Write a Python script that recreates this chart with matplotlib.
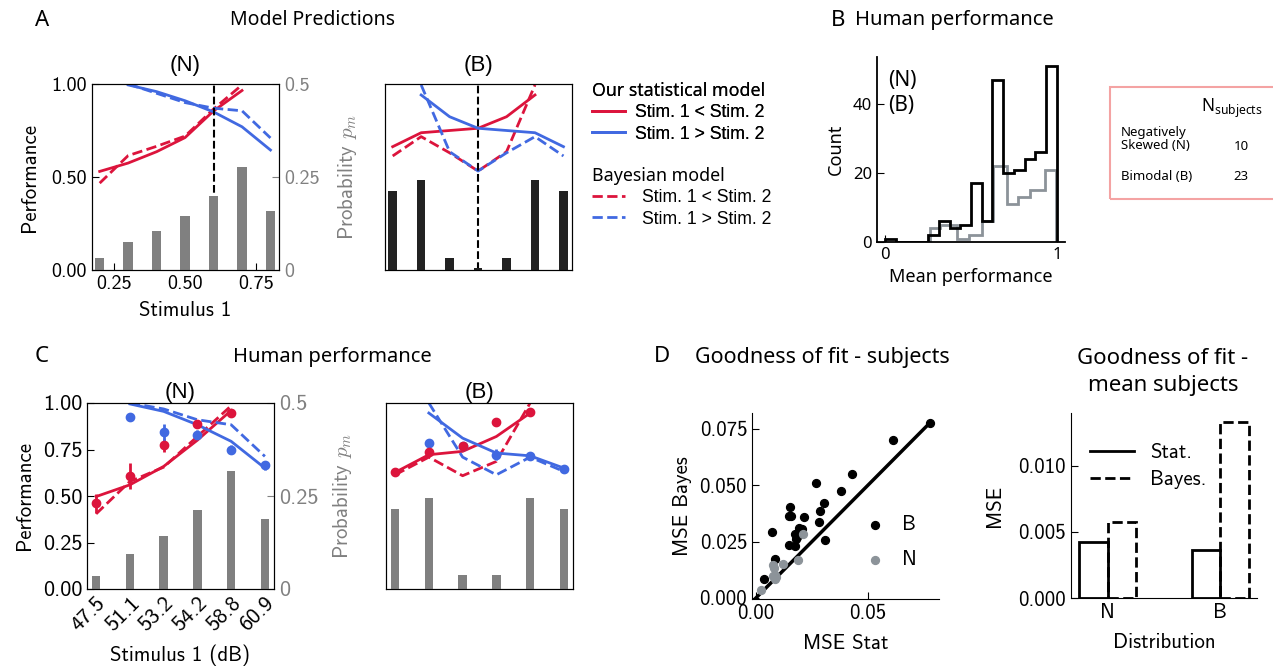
"""
Model predictions vs human performance (N / B stimulus distributions),
histogram of mean performance and goodness-of-fit summary.
"""

import matplotlib
matplotlib.use("Agg")
import matplotlib.pyplot as plt
from matplotlib.lines import Line2D
from matplotlib.patches import Rectangle

RED = "#DC143C"
BLUE = "#4169E1"
GRAY = "#808080"
SLATE = "#8c9399"

CM = "cmss10"
NOTO = "Noto Sans"
ARIAL = "Liberation Sans"

# ---- A: model predictions
stim_model = [0.2, 0.3, 0.4, 0.5, 0.6, 0.7, 0.8]
pm_model_N = [0.032, 0.075, 0.105, 0.145, 0.199, 0.277, 0.159]
pm_model_B = [0.213, 0.242, 0.031, 0.006, 0.031, 0.242, 0.213]

# red = Stim.1 < Stim.2 (x 0.2..0.7), blue = Stim.1 > Stim.2 (x 0.3..0.8)
stat_lo_N = [0.53, 0.575, 0.636, 0.712, 0.855, 0.965]
bayes_lo_N = [0.467, 0.615, 0.665, 0.72, 0.865, 0.995]
stat_hi_N = [0.995, 0.959, 0.91, 0.85, 0.77, 0.645]
bayes_hi_N = [1.0, 0.95, 0.9, 0.87, 0.856, 0.71]

stat_lo_B = [0.663, 0.738, 0.75, 0.762, 0.824, 0.941]
bayes_lo_B = [0.613, 0.717, 0.63, 0.532, 0.636, 0.995]
stat_hi_B = [0.941, 0.824, 0.762, 0.75, 0.738, 0.663]
bayes_hi_B = [0.995, 0.636, 0.532, 0.63, 0.717, 0.613]

# ---- B: histogram of mean performance
hist_edges_N = [i / 16 for i in range(17)]
hist_counts_N = [1, 0, 0, 0, 2, 6, 4, 5, 17, 6, 47, 20, 21, 24, 26, 51]
hist_edges_B = [0.26, 0.32, 0.417, 0.49, 0.562, 0.63, 0.708, 0.775, 0.843, 0.93, 0.994]
hist_counts_B = [4, 5, 1, 2, 6, 22, 11, 13, 15, 21]
n_subjects = {"Negatively\nSkewed (N)": 10, "Bimodal (B)": 23}

# ---- C: human performance
stim_db = ["47.5", "51.1", "53.2", "54.2", "58.8", "60.9"]
pm_human_N = [0.036, 0.094, 0.142, 0.212, 0.318, 0.189]
pm_human_B = [0.215, 0.245, 0.038, 0.038, 0.245, 0.215]

hstat_lo_N = [0.497, 0.56, 0.659, 0.80, 0.96]
hbayes_lo_N = [0.404, 0.578, 0.655, 0.82, 0.985]
data_lo_N = [0.46, 0.61, 0.772, 0.889, 0.946]
err_lo_N = [0.05, 0.07, 0.035, 0.02, 0.015]
hstat_hi_N = [0.995, 0.955, 0.883, 0.794, 0.65]
hbayes_hi_N = [1.0, 0.968, 0.91, 0.883, 0.713]
data_hi_N = [0.923, 0.842, 0.829, 0.749, 0.664]
err_hi_N = [0.02, 0.045, 0.025, 0.025, 0.025]

hstat_lo_B = [0.627, 0.722, 0.74, 0.82, 0.946]
hbayes_lo_B = [0.614, 0.709, 0.609, 0.686, 1.0]
data_lo_B = [0.627, 0.734, 0.77, 0.898, 0.952]
err_lo_B = [0.015, 0.02, 0.02, 0.015, 0.015]
hstat_hi_B = [0.946, 0.811, 0.731, 0.716, 0.65]
hbayes_hi_B = [1.0, 0.709, 0.614, 0.709, 0.632]
data_hi_B = [0.785, 0.77, 0.722, 0.716, 0.646]
err_hi_B = [0.015, 0.02, 0.03, 0.02, 0.015]

# ---- D: goodness of fit
mse_stat_B = [0.0778, 0.0611, 0.0430, 0.0381, 0.0268, 0.0302, 0.0286, 0.0280,
              0.0307, 0.0153, 0.0149, 0.0155, 0.0213, 0.0190, 0.0205, 0.0173,
              0.0179, 0.0176, 0.0149, 0.0071, 0.0086, 0.0034, 0.0183]
mse_bayes_B = [0.0775, 0.0701, 0.0549, 0.0472, 0.0509, 0.0420, 0.0386, 0.0336,
               0.0257, 0.0402, 0.0361, 0.0364, 0.0357, 0.0312, 0.0306, 0.0283,
               0.0260, 0.0231, 0.0235, 0.0290, 0.0172, 0.0083, 0.0272]
mse_stat_N = [0.0208, 0.0188, 0.0119, 0.0074, 0.0079, 0.0083, 0.0089, 0.0076,
              0.0086, 0.0024]
mse_bayes_N = [0.0284, 0.0169, 0.0149, 0.0144, 0.0132, 0.0102, 0.0092, 0.0095,
               0.0083, 0.0036]

dist_names = ["N", "B"]
mean_mse_stat = [0.00422, 0.00362]
mean_mse_bayes = [0.00575, 0.01334]

plt.rcParams.update({
    "font.family": CM,
    "font.size": 15,
    "axes.unicode_minus": False,
    "mathtext.fontset": "cm",
    "xtick.direction": "in",
    "ytick.direction": "in",
    "xtick.major.size": 5,
    "ytick.major.size": 5,
})

W, H = 1273, 671


def rect(left, top, right, bottom):
    return [left / W, 1 - bottom / H, (right - left) / W, (bottom - top) / H]


def fig_text(fig, x, y, s, **kw):
    fig.text(x / W, 1 - y / H, s, **kw)


def curves(ax, x_lo, x_hi, s_lo, b_lo, s_hi, b_hi):
    ax.plot(x_lo, s_lo, color=RED, lw=2)
    ax.plot(x_lo, b_lo, color=RED, lw=2, ls="--")
    ax.plot(x_hi, s_hi, color=BLUE, lw=2)
    ax.plot(x_hi, b_hi, color=BLUE, lw=2, ls="--")


def prob_axis(ax, x, pm, color, width, labels, size=15, pad=12):
    axr = ax.twinx()
    axr.bar(x, pm, width=width, color=color)
    axr.set_ylim(0, 0.5)
    if labels:
        axr.set_yticks([0, 0.25, 0.5])
        axr.set_yticklabels(["0", "0.25", "0.5"], fontsize=size)
        axr.tick_params(colors=GRAY)
        axr.set_ylabel("Probability $p_m$", color=GRAY, labelpad=pad)
    else:
        axr.set_yticks([])
    return axr


def main():
    fig = plt.figure(figsize=(12.73, 6.71), dpi=100)

    # ---------------- A
    xlo, xhi = stim_model[:6], stim_model[1:]
    ax = fig.add_axes(rect(92, 84, 279, 270))
    curves(ax, xlo, xhi, stat_lo_N, bayes_lo_N, stat_hi_N, bayes_hi_N)
    ax.axvline(0.6, color="k", ls="--", lw=1.5)
    ax.set_xlim(0.173, 0.83)
    ax.set_ylim(0, 1)
    ax.set_xticks([0.25, 0.5, 0.75])
    ax.set_xticklabels(["0.25", "0.50", "0.75"], fontsize=14.5)
    ax.set_yticks([0, 0.5, 1])
    ax.set_yticklabels(["0.00", "0.50", "1.00"], fontsize=14.5)
    ax.set_xlabel("Stimulus 1", labelpad=6)
    ax.set_ylabel("Performance", labelpad=9)
    ax.set_title("(N)", family=ARIAL, fontsize=16, pad=9)
    prob_axis(ax, stim_model, pm_model_N, GRAY, 0.033, True, 14.5)

    ax = fig.add_axes(rect(385, 84, 572, 270))
    curves(ax, xlo, xhi, stat_lo_B, bayes_lo_B, stat_hi_B, bayes_hi_B)
    ax.axvline(0.5, color="k", ls="--", lw=1.5)
    ax.set_xlim(0.173, 0.83)
    ax.set_ylim(0, 1)
    ax.set_xticks([])
    ax.set_yticks([])
    ax.set_title("(B)", family=ARIAL, fontsize=16, pad=9)
    prob_axis(ax, stim_model, pm_model_B, "#222222", 0.03, False)

    # legends for A
    entry = {"family": ARIAL, "size": 12.7}
    h_stat = [Line2D([], [], color=RED, lw=2), Line2D([], [], color=BLUE, lw=2)]
    h_bayes = [Line2D([], [], color=RED, lw=2, ls="--"),
               Line2D([], [], color=BLUE, lw=2, ls="--")]
    labels = ["Stim. 1 < Stim. 2", "Stim. 1 > Stim. 2"]
    leg = fig.legend(h_stat, labels, loc="upper left", bbox_to_anchor=(583 / W, 1 - 73 / H),
                     frameon=False, prop=entry, title="Our statistical model",
                     title_fontproperties={"family": NOTO, "size": 12.8},
                     alignment="left", borderpad=0, labelspacing=0.25,
                     handlelength=1.9, handletextpad=0.55)
    fig.add_artist(leg)
    fig.legend(h_bayes, labels, loc="upper left", bbox_to_anchor=(583 / W, 1 - 158 / H),
               frameon=False, prop=entry, title="Bayesian model",
               title_fontproperties={"family": NOTO, "size": 12.8},
               alignment="left", borderpad=0, labelspacing=0.25,
               handlelength=1.9, handletextpad=0.95)

    # ---------------- B
    ax = fig.add_axes(rect(877, 57, 1065, 242))
    ax.stairs(hist_counts_B, hist_edges_B, color=SLATE, lw=2)
    ax.stairs(hist_counts_N, hist_edges_N, color="k", lw=2)
    ax.set_xlim(-0.047, 1.047)
    ax.set_ylim(0, 53.6)
    ax.set_xticks([0, 1])
    ax.set_yticks([0, 20, 40])
    for lab in ax.get_xticklabels() + ax.get_yticklabels():
        lab.set_family(NOTO)
        lab.set_fontsize(12)
    ax.spines[["top", "right"]].set_visible(False)
    ax.spines[["left", "bottom"]].set_linewidth(1.3)
    ax.set_xlabel("Mean performance", family=NOTO, fontsize=13, labelpad=4)
    ax.set_ylabel("Count", family=NOTO, fontsize=13, labelpad=6)
    hl = [Line2D([], [], color="k"), Line2D([], [], color=SLATE)]
    ax.legend(hl, ["(N)", "(B)"], loc="upper left", frameon=False, handlelength=0,
              handletextpad=0, prop={"family": NOTO, "size": 15},
              bbox_to_anchor=(-0.04, 1.03), labelspacing=0.2)

    # N subjects box
    fig.add_artist(Rectangle((1110 / W, 1 - 199 / H), 180 / W, 112 / H,
                             transform=fig.transFigure, fill=False,
                             edgecolor="#f4a3a3", lw=1.5, clip_on=False))
    fig_text(fig, 1232, 108, r"$\mathregular{N_{subjects}}$", family=NOTO, fontsize=12.5,
             ha="center", va="center")
    for (name, n), y in zip(n_subjects.items(), [139, 177]):
        fig_text(fig, 1121, y, name, family=NOTO, fontsize=9.5, va="center",
                 linespacing=1.0)
        fig_text(fig, 1241, y + (7 if "\n" in name else 0), str(n), family=NOTO,
                 fontsize=9.5, ha="center", va="center")

    # ---------------- C
    xc = list(range(len(stim_db)))
    xlo, xhi = xc[:5], xc[1:]
    ax = fig.add_axes(rect(87, 403, 274, 589))
    curves(ax, xlo, xhi, hstat_lo_N, hbayes_lo_N, hstat_hi_N, hbayes_hi_N)
    ax.errorbar(xlo, data_lo_N, yerr=err_lo_N, fmt="o", color=RED, ms=6, lw=2)
    ax.errorbar(xhi, data_hi_N, yerr=err_hi_N, fmt="o", color=BLUE, ms=6, lw=2)
    ax.set_xlim(-0.27, 5.27)
    ax.set_ylim(0, 1)
    ax.set_xticks(xc)
    ax.set_xticklabels(stim_db, rotation=45, ha="right", rotation_mode="anchor",
                       fontsize=16)
    ax.set_yticks([0, 0.25, 0.5, 0.75, 1])
    ax.set_yticklabels(["0.00", "0.25", "0.50", "0.75", "1.00"], fontsize=16)
    ax.set_xlabel("Stimulus 1 (dB)", labelpad=7)
    ax.set_ylabel("Performance", labelpad=6)
    ax.set_title("(N)", family=ARIAL, fontsize=16, pad=2)
    prob_axis(ax, xc, pm_human_N, GRAY, 0.25, True, 16, pad=9)

    ax = fig.add_axes(rect(386, 403, 573, 589))
    curves(ax, xlo, xhi, hstat_lo_B, hbayes_lo_B, hstat_hi_B, hbayes_hi_B)
    ax.errorbar(xhi, data_hi_B, yerr=err_hi_B, fmt="o", color=BLUE, ms=6, lw=2)
    ax.errorbar(xlo, data_lo_B, yerr=err_lo_B, fmt="o", color=RED, ms=6, lw=2)
    ax.set_xlim(-0.27, 5.27)
    ax.set_ylim(0, 1)
    ax.set_xticks([])
    ax.set_yticks([])
    ax.set_title("(B)", family=ARIAL, fontsize=16, pad=2)
    prob_axis(ax, xc, pm_human_B, GRAY, 0.25, False)

    # ---------------- D scatter
    ax = fig.add_axes(rect(752, 413, 939, 599))
    top = max(mse_stat_B + mse_stat_N)
    ax.plot([0, top], [0, top], color="k", lw=2.5)
    ax.scatter(mse_stat_B, mse_bayes_B, s=32, color="k", label="B", zorder=3)
    ax.scatter(mse_stat_N, mse_bayes_N, s=32, color=SLATE, label="N", zorder=3)
    ax.set_xlim(-0.0018, 0.0817)
    ax.set_ylim(-0.0005, 0.082)
    ax.set_xticks([0, 0.05])
    ax.set_xticklabels(["0.00", "0.05"])
    ax.set_yticks([0, 0.025, 0.05, 0.075])
    ax.set_yticklabels(["0.000", "0.025", "0.050", "0.075"])
    ax.spines[["top", "right"]].set_visible(False)
    ax.set_xlabel("MSE Stat", labelpad=8)
    ax.set_ylabel("MSE Bayes", labelpad=5)
    ax.legend(loc="lower right", frameon=False, handletextpad=0.3,
              bbox_to_anchor=(0.98, 0.06), labelspacing=0.75)

    # ---------------- D mean bars
    ax = fig.add_axes(rect(1071, 413, 1257, 598))
    xd = list(range(len(dist_names)))
    ax.bar([x - 0.125 for x in xd], mean_mse_stat, width=0.25, fill=False,
           edgecolor="k", lw=2)
    ax.bar([x + 0.125 for x in xd], mean_mse_bayes, width=0.25, fill=False,
           edgecolor="k", lw=2, ls="--")
    ax.set_xticks(xd)
    ax.set_xticklabels(dist_names)
    ax.set_yticks([0, 0.005, 0.01])
    ax.set_yticklabels(["0.000", "0.005", "0.010"])
    ax.spines[["top", "right"]].set_visible(False)
    ax.set_xlabel("Distribution", labelpad=8)
    ax.set_ylabel("MSE", labelpad=10)
    hd = [Line2D([], [], color="k", lw=2), Line2D([], [], color="k", lw=2, ls="--")]
    ax.legend(hd, ["Stat.", "Bayes."], loc="upper left", frameon=False,
              bbox_to_anchor=(0.0, 0.94), handlelength=2.1, labelspacing=0.4)

    # ---------------- titles and panel letters
    for x, y, s in [(42, 20, "A"), (838, 20, "B"), (42, 357, "C"), (662, 357, "D")]:
        fig_text(fig, x, y, s, family=NOTO, fontsize=16, ha="center", va="center")
    for x, y, s, fs in [(312, 20, "Model Predictions", 14),
                        (954, 20, "Human performance", 14.5),
                        (332, 357, "Human performance", 14.5),
                        (822, 358, "Goodness of fit - subjects", 15.5),
                        (1163, 372, "Goodness of fit -\nmean subjects", 16)]:
        fig_text(fig, x, y, s, family=NOTO, fontsize=fs, ha="center", va="center",
                 linespacing=1.35)

    fig.savefig("out.png", dpi=100)


if __name__ == "__main__":
    main()
